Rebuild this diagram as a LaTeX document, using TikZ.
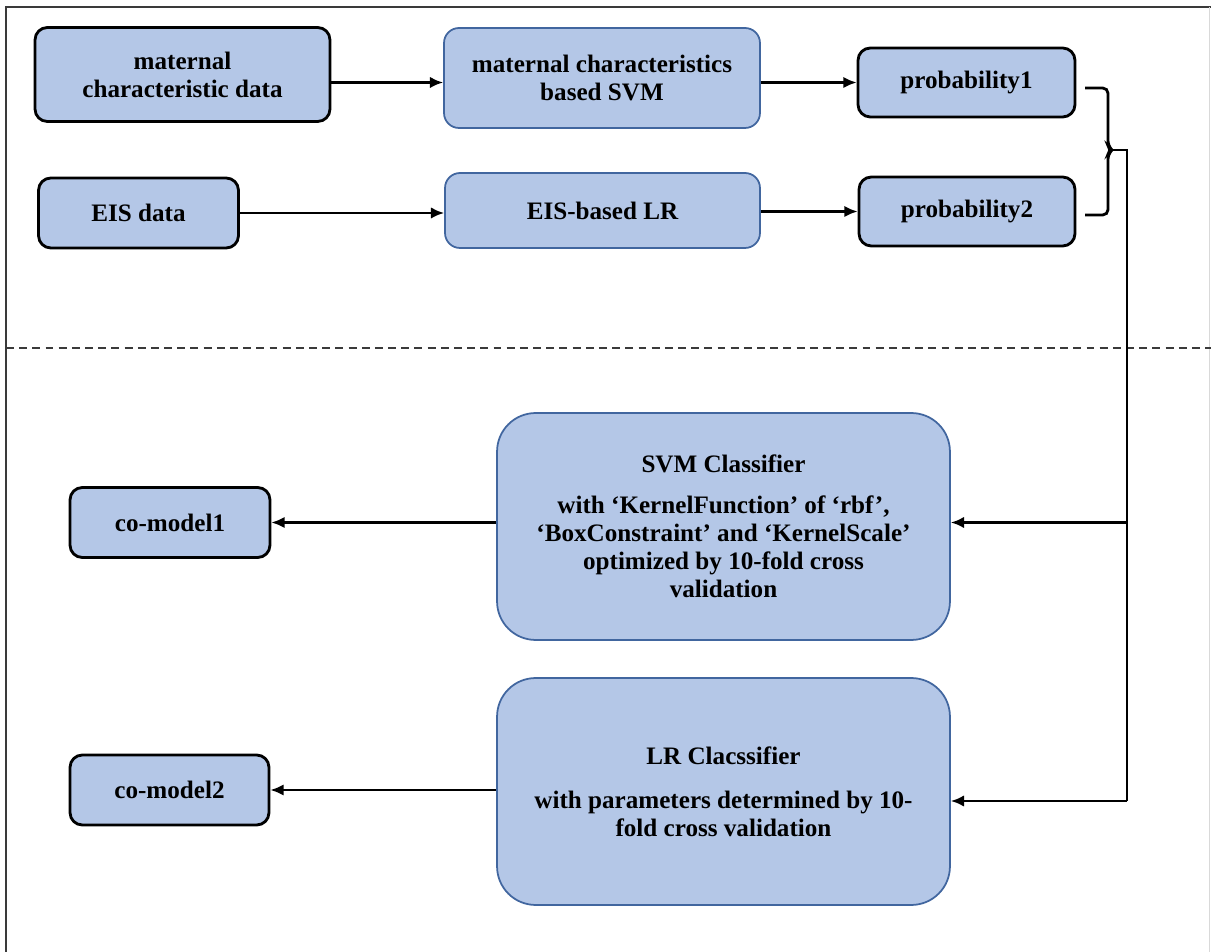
\documentclass[tikz,border=0pt]{standalone}
\usepackage{fontspec}
\setmainfont{Liberation Serif}
\usetikzlibrary{arrows.meta}
\definecolor{boxfill}{HTML}{B4C7E7}
\definecolor{boxline}{HTML}{41669F}
\definecolor{framegray}{HTML}{3A3A3A}

\begin{document}
\begin{tikzpicture}[x=0.02cm,y=-0.02cm,
    every node/.style={font=\fontsize{14.3}{16}\selectfont\bfseries,align=center,inner sep=0pt},
    databox/.style={draw=black,line width=1.6pt,fill=boxfill,rounded corners=7pt},
    modelbox/.style={draw=boxline,line width=1pt,fill=boxfill,rounded corners=8.5pt},
    bigbox/.style={modelbox,rounded corners=22pt},
    arr/.style={-{Latex[length=7.5pt,width=6.5pt]},line width=1.4pt}]
  \useasboundingbox (0,0) rectangle (1211,952);
  \draw[framegray,line width=1.2pt] (6,952) -- (6,7) -- (1211,7);
  \draw[gray!30,line width=0.5pt] (1209.5,7) -- (1209.5,952);
  \draw[framegray,line width=0.8pt,dash pattern=on 4.5pt off 3pt] (6,348) -- (1211,348);
  % upper part: data -> single models -> probabilities
  \node[databox,minimum width=5.9cm,minimum height=1.88cm] (matdata) at (182.5,74.5)
  {maternal\\characteristic data};
  \node[modelbox,minimum width=6.32cm,minimum height=2cm] (svmone) at (602,78)
  {maternal characteristics\\based SVM};
  \node[databox,minimum width=4.34cm,minimum height=1.38cm] (probone) at (966.5,82.5)
  {probability1};
  \node[databox,minimum width=4cm,minimum height=1.4cm] (eisdata) at (138.5,213) {EIS data};
  \node[modelbox,minimum width=6.3cm,minimum height=1.5cm] (lrone) at (602.5,210.5)
  {EIS-based LR};
  \node[databox,minimum width=4.32cm,minimum height=1.38cm] (probtwo) at (967,211.5)
  {probability2};
  \draw[arr] (matdata.east |- probone.west) -- (svmone.west |- probone.west);
  \draw[arr] (svmone.east |- probone.west) -- (probone.west);
  \draw[arr] (eisdata.east) -- (lrone.west |- eisdata.east);
  \draw[arr] (lrone.east |- probtwo.west) -- (probtwo.west);
  % brace and bus
  \coordinate (tip) at (1112,150);
  \coordinate (bustop) at (1127,150);
  \coordinate (busend) at (1127,801);
  \draw[line width=1.6pt,rounded corners=3pt] (1085,88) -- (1108,88) -- (1108,146)
  -- (tip) -- (1108,154) -- (1108,215) -- (1085,215);
  \draw[line width=1.4pt] (tip) -- (bustop) -- (busend);
  % lower part: co-models
  \node[bigbox,minimum width=9.06cm,minimum height=4.54cm] (svmclf) at (723.5,526.5)
  {SVM Classifier\\[7pt] with ‘KernelFunction’ of ‘rbf’,\\ ‘BoxConstraint’ and ‘KernelScale’\\
   optimized by 10-fold cross\\ validation};
  \node[bigbox,minimum width=9.06cm,minimum height=4.54cm] (lrclf) at (723.5,791.5)
  {LR Clacssifier\\[9pt] with parameters determined by 10-\\ fold cross validation};
  \node[databox,minimum width=4cm,minimum height=1.4cm] (comodone) at (170,522.5) {co-model1};
  \node[databox,minimum width=3.98cm,minimum height=1.4cm] (comodtwo) at (169.5,790) {co-model2};
  \draw[arr] (bustop |- comodone.east) -- (svmclf.east |- comodone.east);
  \draw[arr] (busend) -- (busend -| lrclf.east);
  \draw[arr] (svmclf.west |- comodone.east) -- (comodone.east);
  \draw[arr] (lrclf.west |- comodtwo.east) -- (comodtwo.east);
\end{tikzpicture}
\end{document}
